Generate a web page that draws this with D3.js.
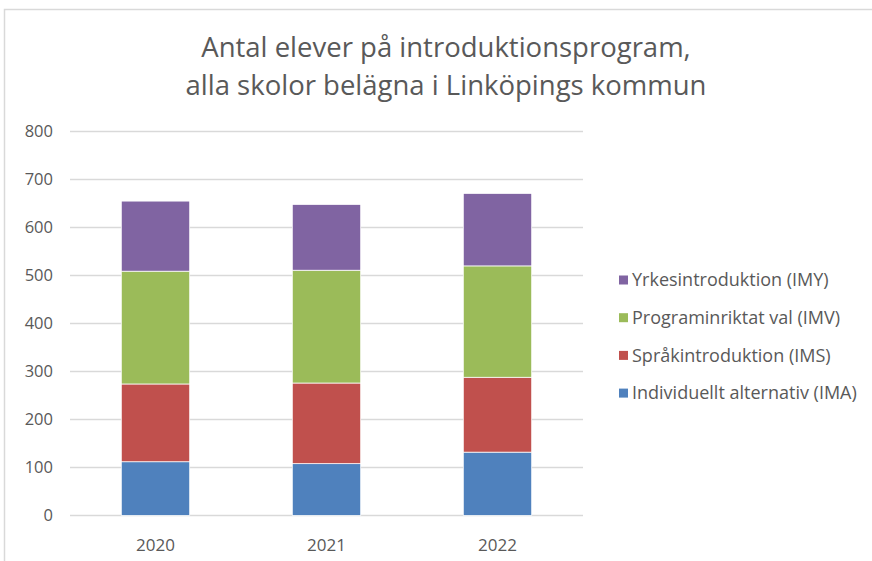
<!DOCTYPE html>
<html>
<head>
<meta charset="utf-8">
<script src="https://cdn.jsdelivr.net/npm/d3@7"></script>
<style>
    body { margin: 0; background: #fff; }
    text { font-family: "Open Sans", "Liberation Sans", sans-serif; fill: #595959; }
</style>
</head>
<body>
<svg id="chart" width="872" height="561"></svg>
<script>
const years = ["2020", "2021", "2022"];
const seriesNames = [
    "Individuellt alternativ (IMA)",
    "Språkintroduktion (IMS)",
    "Programinriktat val (IMV)",
    "Yrkesintroduktion (IMY)"
];
const ima = [112, 108, 132];
const ims = [162, 168, 156];
const imv = [235, 235, 232];
const imy = [146, 137, 151];
const yTicks = [0, 100, 200, 300, 400, 500, 600, 700, 800];
const colors = ["#4f81bd", "#c0504d", "#9bbb59", "#8064a2"];

const rows = years.map((y, i) => ({ year: y, IMA: ima[i], IMS: ims[i], IMV: imv[i], IMY: imy[i] }));
const keys = ["IMA", "IMS", "IMV", "IMY"];

const svg = d3.select("#chart");

// chart frame
svg.append("path")
    .attr("d", "M4.5,561 L4.5,9.5 L872,9.5")
    .attr("fill", "none")
    .attr("stroke", "#d9d9d9")
    .attr("stroke-width", 1.5);

const x = d3.scaleBand().domain(years).range([70, 583]).paddingInner(0.6).paddingOuter(0.3);
const y = d3.scaleLinear().domain([0, 800]).range([515.5, 131.5]);

// gridlines
svg.append("g")
    .selectAll("line")
    .data(yTicks)
    .enter()
    .append("line")
    .attr("x1", 70)
    .attr("x2", 583)
    .attr("y1", (d) => y(d))
    .attr("y2", (d) => y(d))
    .attr("stroke", "#d9d9d9")
    .attr("stroke-width", 1.3);

// y tick labels
svg.append("g")
    .selectAll("text")
    .data(yTicks)
    .enter()
    .append("text")
    .attr("x", 53)
    .attr("y", (d) => y(d))
    .attr("dy", "0.35em")
    .attr("text-anchor", "end")
    .attr("font-size", 16.5)
    .text((d) => d);

// x labels
svg.append("g")
    .selectAll("text")
    .data(years)
    .enter()
    .append("text")
    .attr("x", (d) => x(d) + x.bandwidth() / 2)
    .attr("y", 545)
    .attr("dy", "0.35em")
    .attr("text-anchor", "middle")
    .attr("font-size", 17)
    .text((d) => d);

const stacked = d3.stack().keys(keys)(rows);

svg.append("g")
    .selectAll("g")
    .data(stacked)
    .enter()
    .append("g")
    .attr("fill", (d, i) => colors[i])
    .selectAll("rect")
    .data((d) => d)
    .enter()
    .append("rect")
    .attr("x", (d) => x(d.data.year))
    .attr("width", x.bandwidth())
    .attr("y", (d) => y(d[1]))
    .attr("height", (d) => y(d[0]) - y(d[1]))
    .attr("stroke", "#ffffff")
    .attr("stroke-width", 0.75);

// title
const title = svg.append("text")
    .attr("x", 446)
    .attr("text-anchor", "middle")
    .attr("font-size", 27.5);
title.append("tspan").attr("x", 446).attr("y", 57).text("Antal elever på introduktionsprogram,");
title.append("tspan").attr("x", 446).attr("y", 95).text("alla skolor belägna i Linköpings kommun");

// legend, reversed order like the reference
const legend = svg.append("g")
    .selectAll("g")
    .data(seriesNames.map((n, i) => ({ name: n, color: colors[i] })).reverse())
    .enter()
    .append("g")
    .attr("transform", (d, i) => `translate(619, ${280 + i * 37.7})`);

legend.append("rect")
    .attr("x", 0)
    .attr("y", -4.5)
    .attr("width", 9)
    .attr("height", 9)
    .attr("fill", (d) => d.color);

legend.append("text")
    .attr("x", 13)
    .attr("y", 0)
    .attr("dy", "0.35em")
    .attr("font-size", 18)
    .text((d) => d.name);
</script>
</body>
</html>
